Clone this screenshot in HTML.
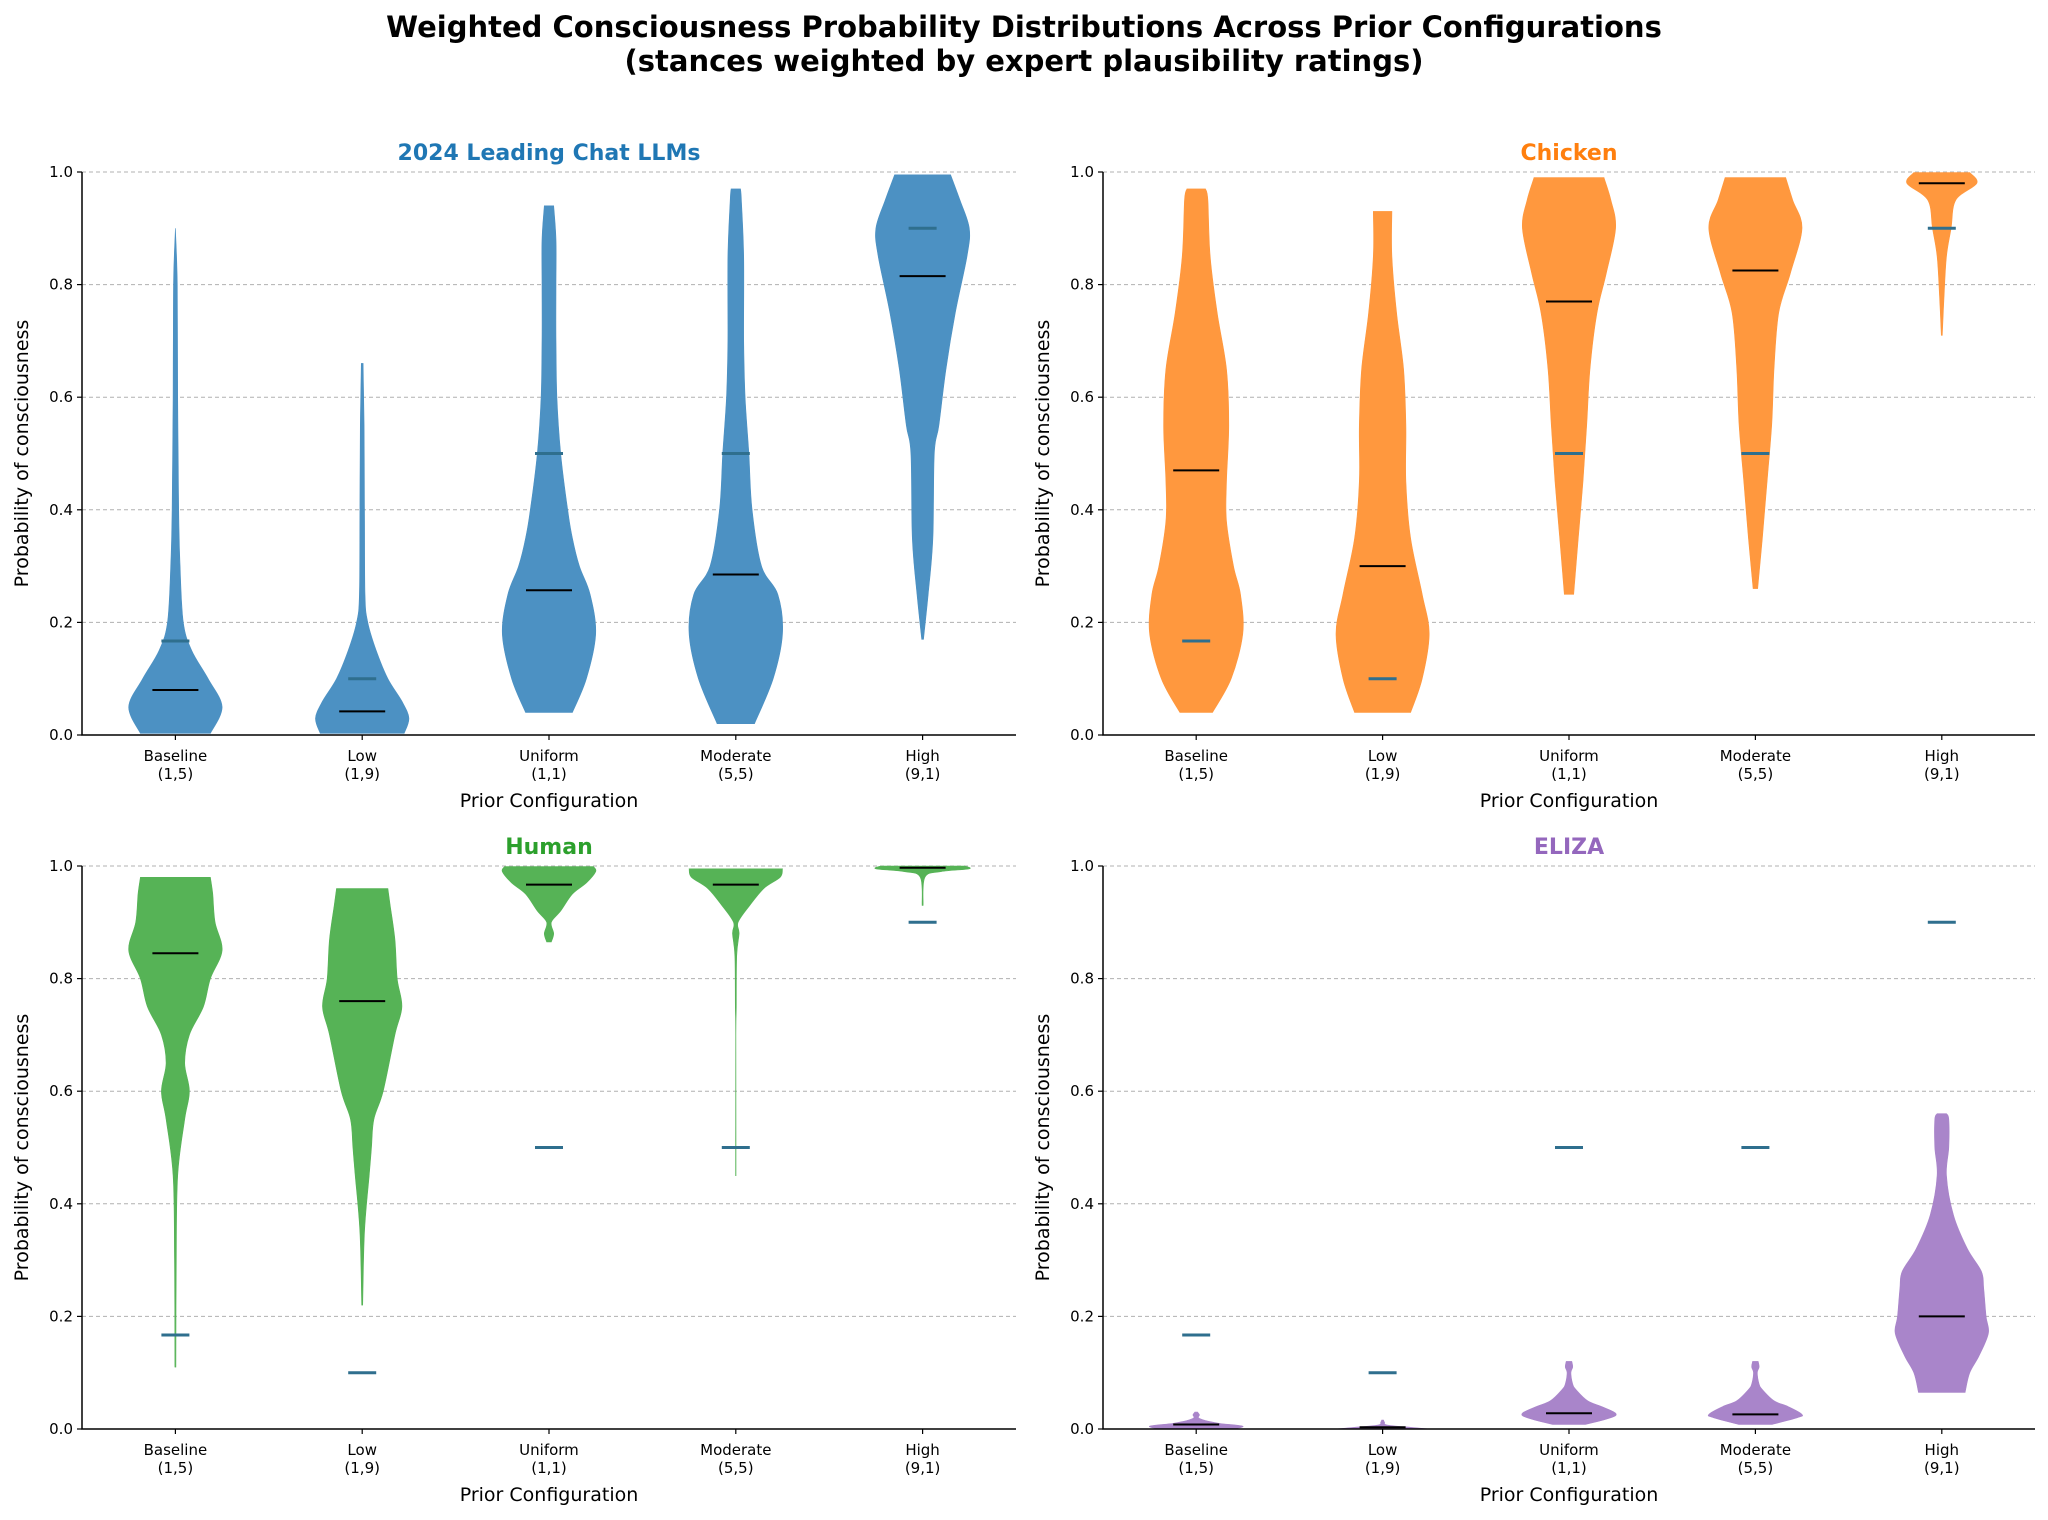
<!DOCTYPE html>
<html><head><meta charset="utf-8"><style>
html,body{margin:0;padding:0;background:#fff}
svg{display:block;font-family:"DejaVu Sans","Liberation Sans",sans-serif}
</style></head><body>
<svg id="fig" width="2048" height="1520" xmlns="http://www.w3.org/2000/svg">
<text x="1024" y="37" text-anchor="middle" font-size="29" font-weight="bold">Weighted Consciousness Probability Distributions Across Prior Configurations</text>
<text x="1024" y="71" text-anchor="middle" font-size="29" font-weight="bold">(stances weighted by expert plausibility ratings)</text>
</svg>
<script>
const categories = ["Baseline","Low","Uniform","Moderate","High"];
const priors = ["(1,5)","(1,9)","(1,1)","(5,5)","(9,1)"];
const yTicks = [0,0.2,0.4,0.6,0.8,1.0];
const panelTitles = ["2024 Leading Chat LLMs","Chicken","Human","ELIZA"];
const panelColors = ["#1f77b4","#ff7f0e","#2ca02c","#9467bd"];
const fillColors = ["#4c91c3","#ff983e","#56b356","#a985ca"];
const priorMeans = [0.167,0.1,0.5,0.5,0.9];
const llmMeans = [0.08,0.042,0.257,0.285,0.815];
const chickenMeans = [0.47,0.30,0.77,0.825,0.98];
const humanMeans = [0.845,0.76,0.967,0.967,0.997];
const elizaMeans = [0.008,0.003,0.028,0.026,0.2];
// violin profiles: [value, relative density]
const llmProfiles = [
 [[0.003,0.75],[0.05,1],[0.1,0.7],[0.15,0.35],[0.2,0.17],[0.3,0.1],[0.4,0.07],[0.6,0.05],[0.8,0.04],[0.9,0]],
 [[0.003,0.9],[0.03,1],[0.06,0.85],[0.1,0.55],[0.15,0.3],[0.2,0.12],[0.25,0.06],[0.4,0.05],[0.55,0.04],[0.66,0.02]],
 [[0.04,0.5],[0.1,0.8],[0.18,1],[0.25,0.88],[0.3,0.65],[0.35,0.5],[0.4,0.4],[0.5,0.25],[0.6,0.17],[0.7,0.15],[0.8,0.15],[0.88,0.15],[0.94,0.1]],
 [[0.02,0.4],[0.1,0.8],[0.18,1],[0.25,0.9],[0.3,0.55],[0.4,0.35],[0.5,0.28],[0.6,0.2],[0.7,0.17],[0.85,0.17],[0.95,0.12],[0.97,0.1]],
 [[0.17,0.02],[0.25,0.12],[0.35,0.22],[0.5,0.25],[0.55,0.35],[0.65,0.5],[0.75,0.7],[0.85,0.95],[0.9,1],[0.95,0.8],[0.995,0.6]]
];
const chickenProfiles = [
 [[0.04,0.35],[0.1,0.75],[0.18,1],[0.25,0.95],[0.3,0.8],[0.38,0.65],[0.45,0.65],[0.55,0.7],[0.65,0.65],[0.75,0.45],[0.85,0.3],[0.95,0.25],[0.97,0.2]],
 [[0.04,0.6],[0.1,0.85],[0.18,1],[0.25,0.85],[0.35,0.6],[0.45,0.5],[0.55,0.5],[0.65,0.45],[0.75,0.3],[0.85,0.2],[0.93,0.2]],
 [[0.25,0.1],[0.35,0.2],[0.45,0.3],[0.55,0.38],[0.65,0.45],[0.75,0.6],[0.82,0.8],[0.9,1],[0.95,0.9],[0.99,0.75]],
 [[0.26,0.05],[0.35,0.15],[0.45,0.25],[0.55,0.35],[0.65,0.4],[0.75,0.5],[0.82,0.75],[0.9,1],[0.95,0.8],[0.99,0.65]],
 [[0.71,0.01],[0.78,0.05],[0.85,0.1],[0.9,0.2],[0.95,0.3],[0.98,0.75],[0.999,0.6]]
];
const humanProfiles = [
 [[0.11,0.01],[0.3,0.02],[0.45,0.05],[0.55,0.2],[0.6,0.3],[0.65,0.2],[0.7,0.3],[0.75,0.6],[0.8,0.75],[0.85,1],[0.9,0.85],[0.95,0.8],[0.98,0.75]],
 [[0.22,0.01],[0.35,0.05],[0.45,0.15],[0.5,0.2],[0.55,0.25],[0.6,0.45],[0.7,0.7],[0.75,0.85],[0.8,0.75],[0.87,0.7],[0.93,0.6],[0.96,0.55]],
 [[0.865,0.05],[0.88,0.1],[0.9,0.05],[0.92,0.25],[0.95,0.5],[0.97,0.8],[0.99,1],[0.999,0.95]],
 [[0.45,0.005],[0.5,0.005],[0.7,0.003],[0.75,0.01],[0.84,0.02],[0.88,0.07],[0.9,0.05],[0.93,0.3],[0.96,0.6],[0.98,0.95],[0.995,1]],
 [[0.93,0.01],[0.98,0.05],[0.99,0.4],[0.995,1],[1.0,0.9]]
];
const elizaProfiles = [
 [[0,0.8],[0.005,1],[0.01,0.5],[0.015,0.2],[0.02,0.05],[0.025,0.07],[0.03,0.03]],
 [[0,1],[0.003,0.6],[0.007,0.1],[0.012,0.04],[0.016,0.02]],
 [[0.008,0.35],[0.02,0.9],[0.028,1],[0.04,0.7],[0.05,0.4],[0.07,0.15],[0.08,0.08],[0.1,0.04],[0.11,0.08],[0.12,0.06]],
 [[0.008,0.35],[0.02,0.9],[0.026,1],[0.04,0.7],[0.05,0.4],[0.07,0.15],[0.08,0.08],[0.1,0.04],[0.11,0.08],[0.12,0.06]],
 [[0.065,0.5],[0.1,0.6],[0.13,0.8],[0.17,1],[0.2,0.95],[0.25,0.9],[0.28,0.85],[0.32,0.55],[0.38,0.25],[0.45,0.1],[0.5,0.15],[0.55,0.15],[0.56,0.1]]
];
const allProfiles = [llmProfiles, chickenProfiles, humanProfiles, elizaProfiles];
const allMeans = [llmMeans, chickenMeans, humanMeans, elizaMeans];

const NS = "http://www.w3.org/2000/svg";
const svg = document.getElementById("fig");
function mk(tag, attrs, parent){const e=document.createElementNS(NS,tag);for(const k in attrs)e.setAttribute(k,attrs[k]);(parent||svg).appendChild(e);return e;}
function smoothSeg(pts){ // catmull-rom through pts, returns path commands after first point
  let d="";
  for(let i=0;i<pts.length-1;i++){
    const p0=pts[Math.max(0,i-1)],p1=pts[i],p2=pts[i+1],p3=pts[Math.min(pts.length-1,i+2)];
    const c1=[p1[0]+(p2[0]-p0[0])/6,p1[1]+(p2[1]-p0[1])/6];
    const c2=[p2[0]-(p3[0]-p1[0])/6,p2[1]-(p3[1]-p1[1])/6];
    d+=` C${c1[0].toFixed(1)},${c1[1].toFixed(1)} ${c2[0].toFixed(1)},${c2[1].toFixed(1)} ${p2[0].toFixed(1)},${p2[1].toFixed(1)}`;
  }
  return d;
}
const layouts = [
 {x0:82,x1:1016,y0:172,y1:735},
 {x0:1103,x1:2035,y0:172,y1:735},
 {x0:82,x1:1016,y0:866,y1:1429},
 {x0:1103,x1:2035,y0:866,y1:1429}
];
layouts.forEach((L,p)=>{
  const g = mk("g",{});
  
  
  const step=(L.x1-L.x0)/categories.length;
  const xs=i=>L.x0+step*(i+0.5);
  const ys=v=>L.y1-(L.y1-L.y0)*v;
  const half=step*0.25;
  yTicks.forEach(t=>{
    if(t>0){const gl=mk("line",{x1:L.x0,x2:L.x1,y1:ys(t),y2:ys(t),stroke:"#b0b0b0","stroke-width":1,"stroke-dasharray":"4,3"},g);
    
    }
    const tk=mk("line",{x1:L.x0-5,x2:L.x0,y1:ys(t),y2:ys(t),stroke:"#000","stroke-width":1.2},g);
    
    
    const tl=mk("text",{x:L.x0-9,y:ys(t)+5,"text-anchor":"end","font-size":15},g);
    tl.textContent=t.toFixed(1);
    
    
  });
  allProfiles[p].forEach((prof,i)=>{
    const cx=xs(i);
    const right=prof.map(([v,d])=>[cx+d*half,ys(v)]);
    const left=prof.slice().reverse().map(([v,d])=>[cx-d*half,ys(v)]);
    const d=`M${cx.toFixed(1)},${right[0][1].toFixed(1)} L${right[0][0].toFixed(1)},${right[0][1].toFixed(1)}`+smoothSeg(right)+
      ` L${cx.toFixed(1)},${right[right.length-1][1].toFixed(1)} L${left[0][0].toFixed(1)},${left[0][1].toFixed(1)}`+smoothSeg(left)+" Z";
    const vp=mk("path",{d:d,fill:fillColors[p],stroke:fillColors[p],"stroke-width":0.6},g);
    
    
    const pm=mk("line",{x1:cx-14,x2:cx+14,y1:ys(priorMeans[i]),y2:ys(priorMeans[i]),stroke:"#2f6f8e","stroke-width":3},g);
    
    
    const wm=mk("line",{x1:cx-23,x2:cx+23,y1:ys(allMeans[p][i]),y2:ys(allMeans[p][i]),stroke:"#000","stroke-width":2},g);
    
    
    const xt=mk("line",{x1:cx,x2:cx,y1:L.y1,y2:L.y1+5,stroke:"#000","stroke-width":1.2},g);
    
    
    const t1=mk("text",{x:cx,y:L.y1+26,"text-anchor":"middle","font-size":15},g);
    t1.textContent=categories[i];
    
    
    const t2=mk("text",{x:cx,y:L.y1+44,"text-anchor":"middle","font-size":15},g);
    t2.textContent=priors[i];
    
    
  });
  const ax=mk("path",{d:`M${L.x0},${L.y0} V${L.y1} H${L.x1}`,fill:"none",stroke:"#000","stroke-width":1.5},g);
  
  
  const tt=mk("text",{x:(L.x0+L.x1)/2,y:L.y0-12,"text-anchor":"middle","font-size":22,"font-weight":"bold",fill:panelColors[p]},g);
  tt.textContent=panelTitles[p];
  
  
  const xl=mk("text",{x:(L.x0+L.x1)/2,y:L.y1+72,"text-anchor":"middle","font-size":19},g);
  xl.textContent="Prior Configuration";
  
  
  const yc=(L.y0+L.y1)/2, yx=L.x0-54;
  const yl=mk("text",{x:yx,y:yc,"text-anchor":"middle","font-size":19,transform:`rotate(-90 ${yx} ${yc})`},g);
  yl.textContent="Probability of consciousness";
  
  
});
</script>
</body></html>
